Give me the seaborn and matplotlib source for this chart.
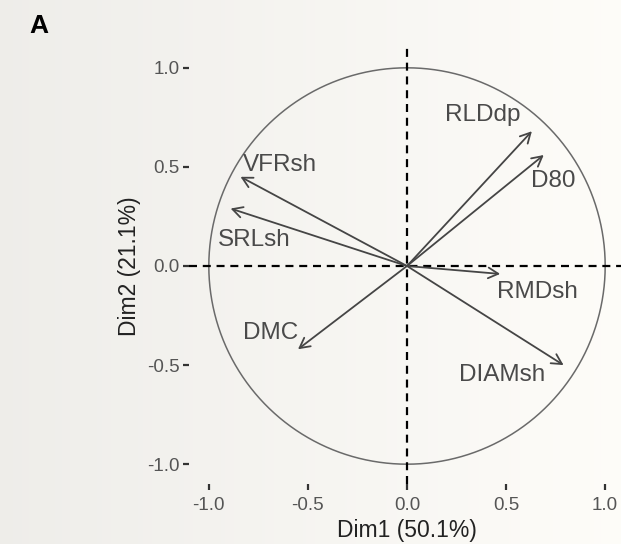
#!/usr/bin/env python3

import numpy as np
import pandas as pd
import seaborn as sns
import matplotlib.pyplot as plt

# PCA variable loadings (Dim1, Dim2)
variables = ["RLDdp", "D80", "RMDsh", "DIAMsh", "VFRsh", "SRLsh", "DMC"]
dim1 = [0.63, 0.69, 0.47, 0.79, -0.84, -0.89, -0.55]
dim2 = [0.68, 0.56, -0.04, -0.50, 0.45, 0.29, -0.42]
# where each label sits
label_x = [0.38, 0.74, 0.66, 0.48, -0.64, -0.77, -0.69]
label_y = [0.76, 0.43, -0.13, -0.55, 0.51, 0.13, -0.34]

ticks = [-1.0, -0.5, 0.0, 0.5, 1.0]
tick_labels = ["-1.0", "-0.5", "0.0", "0.5", "1.0"]


def main():
    df = pd.DataFrame({"Variable": variables, "Dim1": dim1, "Dim2": dim2,
                       "lx": label_x, "ly": label_y})

    sns.set_theme(style="white")
    plt.rcParams["font.family"] = ["Liberation Sans", "DejaVu Sans"]

    fig = plt.figure(figsize=(6.21, 5.44), dpi=100)

    # soft paper-like background gradient
    bg = fig.add_axes([0, 0, 1, 1], zorder=-10)
    grad = np.linspace(0.94, 1.0, 256)[None, :]
    grad = np.repeat(grad, 2, axis=0)
    bg.imshow(np.dstack([grad * 0.995, grad * 0.99, grad * 0.975]),
              aspect="auto", extent=[0, 1, 0, 1])
    bg.axis("off")

    ax = fig.add_axes([189 / 621, 60 / 544, 436 / 621, 436 / 544])
    ax.patch.set_alpha(0)

    # unit circle
    theta = np.linspace(0, 2 * np.pi, 361)
    circ = pd.DataFrame({"x": np.cos(theta), "y": np.sin(theta)})
    sns.lineplot(data=circ, x="x", y="y", sort=False, estimator=None,
                 color="#6a6a6a", linewidth=1.1, ax=ax)

    ax.axhline(0, color="black", linestyle=(0, (3.6, 2.6)), linewidth=1.6)
    ax.axvline(0, color="black", linestyle=(0, (3.6, 2.6)), linewidth=1.6)

    for _, row in df.iterrows():
        ax.annotate("", xy=(row.Dim1, row.Dim2), xytext=(0, 0),
                    arrowprops=dict(arrowstyle="->,head_length=0.6,head_width=0.32",
                                    color="#454545", lw=1.3,
                                    shrinkA=0, shrinkB=0))
        ax.text(row.lx, row.ly, row.Variable, ha="center", va="center",
                fontsize=17.5, color="#4a4a4a")

    ax.set_xlim(-1.1, 1.1)
    ax.set_ylim(-1.1, 1.1)
    ax.set_xticks(ticks)
    ax.set_xticklabels(tick_labels)
    ax.set_yticks(ticks)
    ax.set_yticklabels(tick_labels)
    ax.tick_params(axis="both", length=4, width=1.6, color="#333333",
                   labelsize=13.5, labelcolor="#555555",
                   bottom=True, left=True)
    ax.tick_params(axis="x", pad=5)
    ax.tick_params(axis="y", pad=3)
    sns.despine(ax=ax, left=True, bottom=True)
    ax.set_xlabel("Dim1 (50.1%)", fontsize=16.5, color="#222222", labelpad=4)
    ax.set_ylabel("Dim2 (21.1%)", fontsize=16.5, color="#222222", labelpad=4)

    fig.text(29 / 621, 1 - 33 / 544, "A", fontsize=19, fontweight="bold",
             color="black", ha="left", va="baseline")

    fig.savefig("out.png", dpi=100)
    plt.close(fig)


if __name__ == '__main__':
    main()
